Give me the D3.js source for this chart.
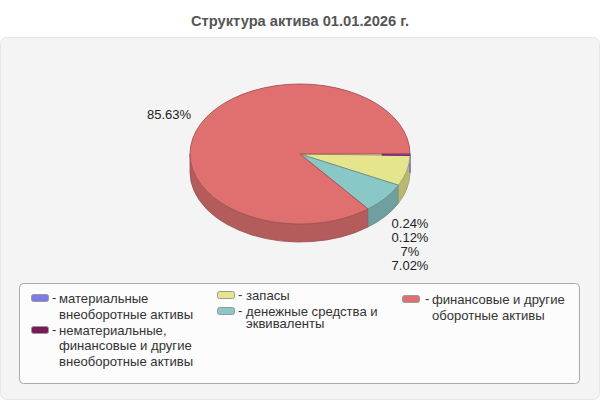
<!DOCTYPE html>
<html>
<head>
<meta charset="utf-8">
<script src="https://cdn.jsdelivr.net/npm/d3@7"></script>
<style>
html, body { margin: 0; padding: 0; background: #fff; }
svg { display: block; font-family: "Liberation Sans", Arial, sans-serif; }
</style>
</head>
<body>
<div id="chart"></div>
<script>
const title = "Структура актива 01.01.2026 г.";
const values = [0.24, 0.12, 7, 7.02, 85.63];
const valueLabels = ["0.24%", "0.12%", "7%", "7.02%", "85.63%"];
const topColors = ["#7b7bee", "#7a1a5c", "#e5e58e", "#8ac7c7", "#e07070"];
const sideColors = ["#5a5ae0", "#5f1448", "#b9b975", "#709f9f", "#b45c5c"];
const legendLines = [
    ["материальные", "внеоборотные активы"],
    ["нематериальные,", "финансовые и другие", "внеоборотные активы"],
    ["запасы"],
    ["денежные средства и", "эквиваленты"],
    ["финансовые и другие", "оборотные активы"]
];

const w = 600, h = 400;
const cx = 300, cy = 154, rx = 110, ry = 70, depth = 18;

const svg = d3.select("#chart").append("svg").attr("width", w).attr("height", h);

svg.append("text").attr("x", w / 2).attr("y", 26)
    .attr("text-anchor", "middle").attr("font-size", 14.7).attr("font-weight", "bold")
    .attr("fill", "#555").text(title);

svg.append("rect").attr("x", 0.5).attr("y", 37.5).attr("width", 599).attr("height", 362).attr("rx", 6)
    .attr("fill", "#f4f4f4").attr("stroke", "#e6e6e6");

// start at 3 o'clock, clockwise
const pie = d3.pie().sort(null).startAngle(Math.PI / 2).endAngle(Math.PI * 2.5);
const arcs = pie(values);

const px = a => cx + rx * Math.sin(a);
const py = a => cy - ry * Math.cos(a);

// side wall, only the front half of the ellipse shows; reversed so the thin blue one stays on top
const sides = svg.append("g");
arcs.slice().reverse().forEach(d => {
    const a0 = d.startAngle, a1 = Math.min(d.endAngle, Math.PI * 1.5);
    if (a0 >= a1 || d.index === 1) return;
    sides.append("path")
        .attr("d", `M${px(a0)},${py(a0)} A${rx},${ry} 0 0 1 ${px(a1)},${py(a1)}`
            + ` L${px(a1)},${py(a1) + depth} A${rx},${ry} 0 0 0 ${px(a0)},${py(a0) + depth} Z`)
        .attr("fill", sideColors[d.index])
        .attr("stroke", d.index === 0 ? sideColors[0] : d3.color(sideColors[d.index]).darker(0.5))
        .attr("stroke-width", d.index === 0 ? 1.2 : 0.8);
});

// top faces: circle arc squashed to an ellipse
const arc = d3.arc().innerRadius(0).outerRadius(rx);
const pieTop = svg.append("g").attr("transform", `translate(${cx},${cy}) scale(1,${ry / rx})`);
pieTop.selectAll("path.slice").data(arcs.filter(d => d.index > 1)).join("path")
    .attr("class", "slice")
    .attr("d", arc)
    .attr("fill", d => topColors[d.index])
    .attr("stroke", d => d3.color(sideColors[d.index]).darker(0.3))
    .attr("stroke-width", 0.9)
    .attr("vector-effect", "non-scaling-stroke");

// the two thin slices only show towards the rim
const rimArc = d3.arc().innerRadius(rx * 0.745).outerRadius(rx);
pieTop.selectAll("path.thin").data(arcs.filter(d => d.index < 2)).join("path")
    .attr("class", "thin")
    .attr("d", rimArc)
    .attr("fill", d => topColors[d.index])
    .attr("stroke", topColors[1])
    .attr("stroke-width", 0.5)
    .attr("vector-effect", "non-scaling-stroke");

// value labels
const labelPos = [[410, 223.5], [410, 237.5], [410, 251.5], [410, 265.5], [169, 114]];
svg.selectAll("text.val").data(valueLabels).join("text")
    .attr("class", "val")
    .attr("x", (d, i) => labelPos[i][0]).attr("y", (d, i) => labelPos[i][1])
    .attr("dy", "0.36em").attr("text-anchor", "middle")
    .attr("font-size", 13).attr("fill", "#222").text(d => d);

// legend
svg.append("rect").attr("x", 19.5).attr("y", 283.5).attr("width", 560).attr("height", 100).attr("rx", 4)
    .attr("fill", "#fcfcfc").attr("stroke", "#aaa");

const legendPos = [
    { x: 31, ys: [298, 314] },
    { x: 31, ys: [330, 345, 361] },
    { x: 217, ys: [295] },
    { x: 217, ys: [311, 323] },
    { x: 402, ys: [299.5, 315.5] }
];
legendLines.forEach((lines, i) => {
    const pos = legendPos[i];
    const textX = pos.x + (i === 4 ? 30 : i > 1 ? 29 : 28);
    const g = svg.append("g");
    g.append("rect").attr("x", pos.x + 0.5).attr("y", Math.floor(pos.ys[0]) - 3.5).attr("width", 17).attr("height", 7).attr("rx", 2)
        .attr("fill", topColors[i]).attr("stroke", "#999").attr("stroke-width", 1);
    g.append("text").attr("x", pos.x + (i === 4 ? 23 : 21)).attr("y", pos.ys[0] - 1).attr("dy", "0.36em")
        .attr("font-size", 13).attr("fill", "#333").text("-");
    lines.forEach((line, j) => {
        g.append("text").attr("x", textX).attr("y", pos.ys[j]).attr("dy", "0.36em")
            .attr("font-size", 13.1).attr("fill", "#333").text(line);
    });
});
</script>
</body>
</html>
